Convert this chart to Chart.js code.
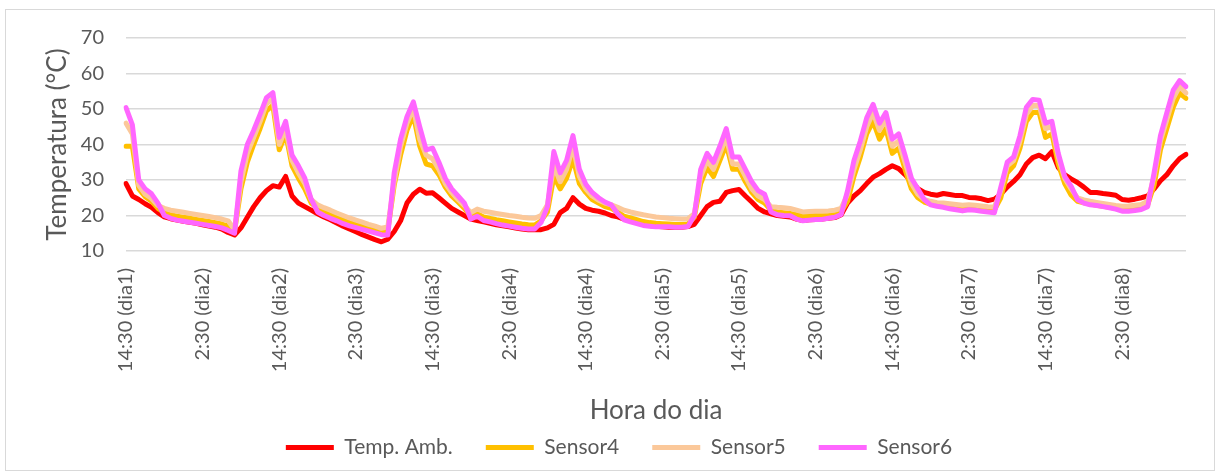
<!DOCTYPE html>
<html>
<head>
<meta charset="utf-8">
<script src="https://cdn.jsdelivr.net/npm/chart.js@4.4.1/dist/chart.umd.min.js"></script>
<style>
  html, body { margin: 0; padding: 0; background: #ffffff; }
  #wrap { position: relative; width: 1219px; height: 475px; }
</style>
</head>
<body>
<div id="wrap"><canvas id="tempChart" width="1219" height="475"></canvas></div>
<script>
// Hourly readings, first point is 14:30 of dia1
const startHour = 14;

const tempAmb = [
  29, 25.5, 24.5, 23.3, 22.3, 20.8, 19.6, 19.1, 18.7, 18.4, 18.1, 17.8, 17.4, 17, 16.7, 16.2, 15.2, 14.5, 16.5, 19.5, 22.5, 25, 27, 28.4,
  28, 31, 25.5, 23.5, 22.5, 21.5, 20.5, 19.6, 18.8, 17.9, 17, 16.2, 15.4, 14.6, 13.9, 13.2, 12.6, 13.3, 15.5, 18.5, 23.5, 26, 27.4, 26.3,
  26.4, 25, 23.5, 22, 21, 20, 19, 18.6, 18.2, 17.8, 17.4, 17.1, 16.8, 16.5, 16.2, 16, 16, 16, 16.5, 17.5, 20.8, 22, 25, 23.2,
  22, 21.5, 21.2, 20.7, 20, 19.6, 19, 18.5, 18, 17.5, 17.2, 17, 16.8, 16.7, 16.7, 16.7, 16.9, 17.5, 20, 22.5, 23.7, 24, 26.5, 27,
  27.3, 25.5, 23.8, 22, 21, 20.5, 20, 19.8, 19.6, 19, 18.6, 18.8, 18.9, 19, 19.2, 19.4, 20.2, 23.5, 25.5, 27, 29, 30.8, 31.8, 33,
  34, 33.2, 31.5, 29.5, 27.6, 26.5, 26, 25.7, 26.2, 25.9, 25.6, 25.6, 25.1, 25, 24.7, 24.2, 24.6, 26, 28, 29.6, 31.5, 34.5, 36.3, 37,
  36, 38, 33.5, 31.5, 30.3, 29.3, 28, 26.5, 26.5, 26.2, 26, 25.7, 24.5, 24.3, 24.6, 25, 25.5, 27.5, 29.8, 31.5, 34, 36, 37.2
];

const sensor4 = [
  39.5, 39.5, 27.5, 25.3, 24, 22, 20.8, 20.2, 19.8, 19.5, 19.2, 18.9, 18.6, 18.3, 18, 17.6, 17, 15.5, 27.5, 35, 40, 44.5, 49.5, 51,
  38.5, 43, 34, 30.5, 27.5, 23.5, 22, 21, 20.2, 19.4, 18.7, 18, 17.4, 16.9, 16.4, 15.9, 15.4, 15.8, 28.5, 37, 44, 48.3, 39.5, 34.5,
  34, 31.5, 28, 25.5, 23.8, 22, 19.8, 20.5, 19.6, 19.2, 18.8, 18.5, 18.2, 17.9, 17.6, 17.4, 17.3, 18.5, 21, 31, 27.5, 30.5, 36, 29,
  26.5, 24.5, 23.5, 22.5, 22, 21, 19.8, 19.3, 18.8, 18.3, 18, 17.8, 17.7, 17.6, 17.5, 17.5, 17.6, 19.5, 29, 33.5, 31, 35.5, 40, 33,
  33, 29.5, 26.5, 24.5, 23.5, 21.5, 21, 20.8, 20.6, 20.2, 19.8, 19.9, 20, 20.1, 20.2, 20.4, 21, 24, 31, 36.5, 43, 46.5, 41.5, 44.5,
  37.5, 39, 33, 27.5, 25, 23.8, 23.2, 22.8, 22.7, 22.5, 22.3, 22.1, 22.2, 22.1, 21.9, 21.7, 21.6, 25, 32, 34, 39, 46.5, 49, 49,
  42, 43, 34.5, 29, 25.8, 24, 23.6, 23.2, 22.9, 22.6, 22.3, 22, 21.8, 21.9, 22.1, 22.3, 23, 28.5, 38.5, 44.5, 50.5, 54.5, 53
];

const sensor5 = [
  46, 43, 28.5, 26, 24.8, 22.8, 22, 21.5, 21.2, 20.9, 20.6, 20.3, 20, 19.7, 19.4, 19, 18.5, 16, 29.5, 37.5, 42, 46.5, 51.5, 52.8,
  40, 44.5, 35.5, 32, 29, 24.5, 23, 22.2, 21.5, 20.7, 20, 19.3, 18.7, 18.1, 17.5, 17, 16.4, 16.8, 29.5, 39.5, 46, 50.2, 41.5, 37,
  36, 33, 29, 26.5, 24.5, 22.8, 20.8, 21.8, 21.2, 20.9, 20.6, 20.3, 20, 19.8, 19.5, 19.3, 19.2, 20, 23, 34, 29.5, 33, 39.5, 31,
  27.5, 25.5, 24.3, 23.5, 23, 22.3, 21.5, 21, 20.6, 20.2, 19.9, 19.6, 19.4, 19.2, 19.1, 19, 19.1, 20.5, 31, 35.5, 33, 37.5, 42, 34.5,
  34.5, 31, 27.5, 25.5, 24.5, 22.5, 22.3, 22.2, 22, 21.5, 21, 21.1, 21.2, 21.2, 21.3, 21.5, 22, 26, 33, 38.5, 45, 49, 44, 47,
  39.5, 41, 35, 29, 26, 24.5, 24, 23.6, 23.5, 23.3, 23.1, 22.9, 23, 22.9, 22.7, 22.5, 22.4, 27, 34, 35.5, 41, 48.5, 51, 51,
  44.5, 45, 36.5, 30.5, 27.5, 25, 24.4, 24, 23.7, 23.4, 23.1, 22.8, 22.6, 22.7, 22.9, 23.1, 24, 31, 41, 47, 53, 56.3, 54.5
];

const sensor6 = [
  50.4, 45.5, 30, 27.5, 26.1, 23.5, 20, 19.2, 18.7, 18.4, 18.1, 17.8, 17.5, 17.2, 16.9, 16.5, 15.8, 15, 32.5, 40, 44, 48.5, 53.2, 54.6,
  42, 46.5, 37, 34, 30.5, 24.6, 21, 20, 19.2, 18.5, 17.7, 17.1, 16.6, 16.1, 15.6, 15.1, 14.6, 14.5, 32, 41.5, 47.8, 52, 45, 38.5,
  39, 35, 30.5, 27.5, 25.5, 23.5, 19, 19.8, 18.6, 18.2, 17.7, 17.3, 17, 16.7, 16.4, 16.2, 16.2, 18, 22.5, 38, 32, 35.5, 42.5, 33,
  28.8, 26.5, 25, 23.8, 23, 20.5, 18.8, 18.2, 17.7, 17.2, 17, 16.8, 16.8, 16.8, 16.7, 16.7, 16.9, 20, 33, 37.5, 35, 39.5, 44.5, 36.5,
  36.5, 33, 29.5, 27, 26, 21, 20.2, 20, 19.9, 19, 18.5, 18.7, 18.9, 18.9, 19.2, 19.5, 20.3, 27, 35.5, 41, 47.5, 51.3, 46, 49,
  41.5, 43, 37, 30.5, 27.5, 24.5, 23, 22.6, 22.3, 21.9, 21.6, 21.3, 21.6, 21.5, 21.2, 21, 20.8, 28, 35, 36.5, 42.5, 50.5, 52.7, 52.5,
  46, 46.5, 37.5, 31, 28.3, 24.5, 23.5, 23, 22.8, 22.5, 22.2, 21.8, 21.2, 21.2, 21.4, 21.7, 22.5, 32, 42.5, 49, 55.3, 58, 56.3
];

const seriesNames = ['Temp. Amb.', 'Sensor4', 'Sensor5', 'Sensor6'];
const seriesColors = ['#ff0000', '#ffc000', '#fbc89a', '#ff66ff'];

// hourly category labels, only every 12th one is printed
const hourLabels = tempAmb.map((_, i) => {
  const h = startHour + i;
  return (h % 24) + ':30 (dia' + (1 + Math.floor(h / 24)) + ')';
});

const FONT = 'Lato, "Noto Sans", sans-serif';
const TXT = '#595959';
const PLOT_BOTTOM = 251;
const PAD_BOTTOM = 7;

// light frame around the whole chart
const framePlugin = {
  id: 'frame',
  beforeDraw(chart) {
    const ctx = chart.ctx;
    ctx.save();
    ctx.fillStyle = '#ffffff';
    ctx.fillRect(0, 0, chart.width, chart.height);
    ctx.strokeStyle = '#d9d9d9';
    ctx.lineWidth = 1;
    ctx.strokeRect(5.5, 9.5, 1209, 461);
    ctx.restore();
  }
};

const seriesData = [tempAmb, sensor4, sensor5, sensor6];

new Chart(document.getElementById('tempChart'), {
  type: 'line',
  data: {
    labels: hourLabels,
    datasets: seriesData.map((d, k) => ({
      label: seriesNames[k],
      data: d,
      borderColor: seriesColors[k],
      backgroundColor: seriesColors[k],
      borderWidth: 5,
      borderCapStyle: 'round',
      borderJoinStyle: 'round',
      pointRadius: 0,
      tension: 0,
      order: 4 - k
    }))
  },
  options: {
    responsive: false,
    animation: false,
    layout: { padding: { left: 48, right: 29, top: 38, bottom: PAD_BOTTOM } },
    plugins: {
      legend: {
        position: 'bottom',
        labels: {
          usePointStyle: true,
          pointStyle: 'line',
          pointStyleWidth: 48,
          padding: 33,
          color: TXT,
          font: { family: FONT, size: 21 },
          sort: (a, b) => a.datasetIndex - b.datasetIndex
        }
      },
      tooltip: { enabled: false }
    },
    scales: {
      x: {
        grid: { display: false },
        border: { display: false },
        ticks: {
          autoSkip: false,
          minRotation: 90,
          maxRotation: 90,
          padding: 9,
          color: TXT,
          font: { family: FONT, size: 20 },
          callback: function(val, idx) {
            return idx % 12 === 0 ? this.getLabelForValue(val) : '';
          }
        },
        title: {
          display: true,
          text: 'Hora do dia',
          color: TXT,
          font: { family: FONT, size: 26 },
          padding: { top: 0, bottom: -22 }
        },
        afterFit(s) {
          s.height = s.chart.height - PAD_BOTTOM - s.chart.legend.height - PLOT_BOTTOM;
        }
      },
      y: {
        min: 10,
        max: 70,
        grid: { color: '#d9d9d9', lineWidth: 1.5, drawTicks: false },
        border: { display: false },
        ticks: {
          stepSize: 10,
          padding: 22,
          color: TXT,
          font: { family: FONT, size: 20 }
        },
        title: {
          display: true,
          text: 'Temperatura (°C)',
          color: TXT,
          font: { family: FONT, size: 26 },
          padding: { top: -6, bottom: 0 }
        },
        afterFit(s) {
          s.width = 126 - 48;
        }
      }
    }
  },
  plugins: [framePlugin]
});
</script>
</body>
</html>
